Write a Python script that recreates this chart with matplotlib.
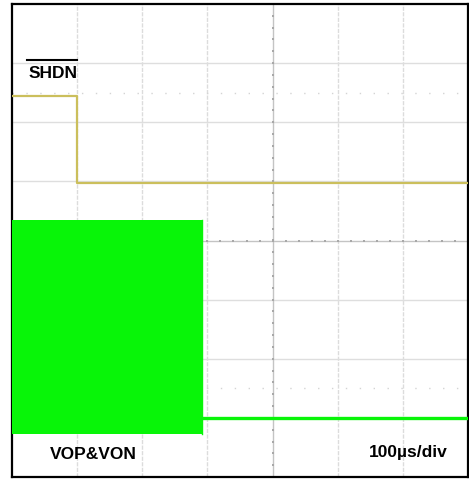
import matplotlib
matplotlib.use('Agg')
import matplotlib.pyplot as plt
import numpy as np

# scope capture: SHDN (ch1) and output burst (ch2), 100us/div
shdn_t = [-400, -300, -300, 300]
shdn_v = [2.45, 2.45, 0.98, 0.98]

burst_t = [-400, -109]
burst_hi = [0.34, 0.34]
burst_lo = [-3.27, -3.27]

idle_t = [-109, 300]
idle_v = [-3.0, -3.0]

labels = ['SHDN', 'VOP&VON', '100µs/div']

plt.rcParams['font.family'] = ['Liberation Sans', 'DejaVu Sans']

fig = plt.figure(figsize=(4.69, 4.79), dpi=100)
ax = fig.add_axes([12 / 469, 2 / 479, 456 / 469, 473 / 479])
ax.set_xlim(-400, 300)
ax.set_ylim(-4, 4)

# graticule
for x in np.arange(-300, 300, 100):
    if x != 0:
        ax.axvline(x, color='#dcdcdc', lw=1.0, ls=(0, (3, 1)), zorder=1)
for y in np.arange(-3, 4, 1):
    if y != 0:
        ax.axhline(y, color='#dedede', lw=1.0, zorder=1)
for y in [2.5, -2.5]:
    ax.axhline(y, color='#d4d4d4', lw=1.0, ls=(0, (1, 9)), zorder=1)

ax.axhline(0, color='#c4c4c4', lw=1.0, zorder=1)
ax.axvline(0, color='#c4c4c4', lw=1.0, zorder=1)
minor_x = np.arange(-400, 301, 20)
minor_y = np.arange(-4, 4.01, 0.2)
ax.plot(minor_x, np.zeros_like(minor_x), ls='none', marker='s', ms=1.6, mew=0, color='#a8a8a8', zorder=1)
ax.plot(np.zeros_like(minor_y), minor_y, ls='none', marker='s', ms=1.6, mew=0, color='#a8a8a8', zorder=1)

# traces
ax.plot(shdn_t, shdn_v, color='#cbbf5c', lw=1.6, zorder=3)
ax.fill_between(burst_t, burst_lo, burst_hi, color='#08f508', lw=0, zorder=3)
ax.plot([burst_t[1], burst_t[1]], [burst_lo[0], burst_hi[0]], color='#08f508', lw=1, zorder=3)
ax.plot(idle_t, idle_v, color='#08f508', lw=2.4, zorder=3)

ax.set_xticks([])
ax.set_yticks([])
for s in ax.spines.values():
    s.set_color('black')
    s.set_linewidth(1.6)

# labels
ax.text(-375, 2.83, labels[0], fontsize=12.5, fontweight='bold', ha='left', va='center', zorder=5)
ax.plot([-377, -300], [3.06, 3.06], color='black', lw=1.5, zorder=5)
ax.text(-275, -3.62, labels[1], fontsize=12.5, fontweight='bold', ha='center', va='center', zorder=5)
ax.text(268, -3.59, labels[2], fontsize=12.5, fontweight='bold', ha='right', va='center', zorder=5)

fig.savefig('out.png', dpi=100)
